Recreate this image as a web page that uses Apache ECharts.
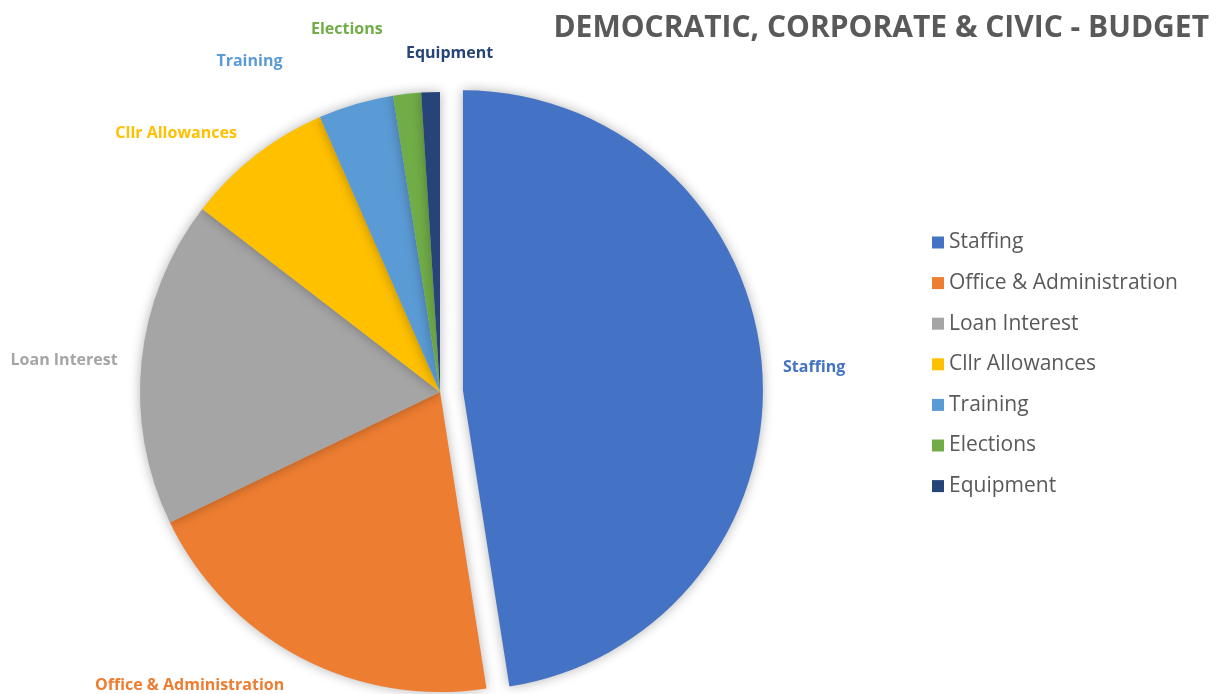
<!DOCTYPE html>
<html>
<head>
<meta charset="utf-8">
<script src="https://cdn.jsdelivr.net/npm/echarts@6/dist/echarts.min.js"></script>
<style>
html,body{margin:0;padding:0;background:#fff;}
#chart{width:1222px;height:694px;}
</style>
</head>
<body>
<div id="chart"></div>
<script>
var categories = ['Staffing', 'Office & Administration', 'Loan Interest', 'Cllr Allowances', 'Training', 'Elections', 'Equipment'];
var values = [47.5, 20.3, 17.6, 8.0, 4.05, 1.5, 1.0];
var colors = ['#4472C4', '#ED7D31', '#A5A5A5', '#FFC000', '#5B9BD5', '#70AD47', '#264478'];
var titleText = 'DEMOCRATIC, CORPORATE & CIVIC - BUDGET';
// small label nudges (px) applied after ECharts' own outside-label layout
var labelNudge = [[1, 1], [-3, 17], [-4, 0], [-3, -13], [-62, -31], [-15, -52], [71, -27]];

var FONT = '"Open Sans", "Noto Sans", sans-serif';

var data = categories.map(function (c, i) {
  return {
    name: c,
    value: values[i],
    selected: i === 0,
    itemStyle: { color: colors[i] },
    label: { color: colors[i] }
  };
});

var chart = echarts.init(document.getElementById('chart'), null, { renderer: 'canvas' });
chart.setOption({
  animation: false,
  backgroundColor: '#ffffff',
  title: {
    text: titleText,
    right: 8,
    top: 8,
    textStyle: { fontFamily: FONT, fontSize: 30, fontWeight: 'bold', color: '#595959' }
  },
  legend: {
    orient: 'vertical',
    left: 927,
    top: 227,
    itemWidth: 12,
    itemHeight: 12,
    itemGap: 19.6,
    icon: 'rect',
    data: categories,
    textStyle: { fontFamily: FONT, fontSize: 21, color: '#595959' }
  },
  series: [{
    type: 'pie',
    center: [440, 392],
    radius: 300,
    startAngle: 90,
    clockwise: true,
    selectedMode: 'single',
    selectedOffset: 23,
    avoidLabelOverlap: false,
    data: data,
    itemStyle: {
      shadowBlur: 12,
      shadowColor: 'rgba(0,0,0,0.3)',
      borderWidth: 0
    },
    label: {
      show: true,
      position: 'outside',
      fontFamily: FONT,
      fontSize: 16,
      fontWeight: 'bold',
      formatter: '{b}'
    },
    labelLine: { show: false, length: 12, length2: 3 },
    labelLayout: function (p) {
      var n = labelNudge[p.dataIndex];
      return { dx: n[0], dy: n[1] };
    },
    emphasis: { disabled: true }
  }]
});
</script>
</body>
</html>
